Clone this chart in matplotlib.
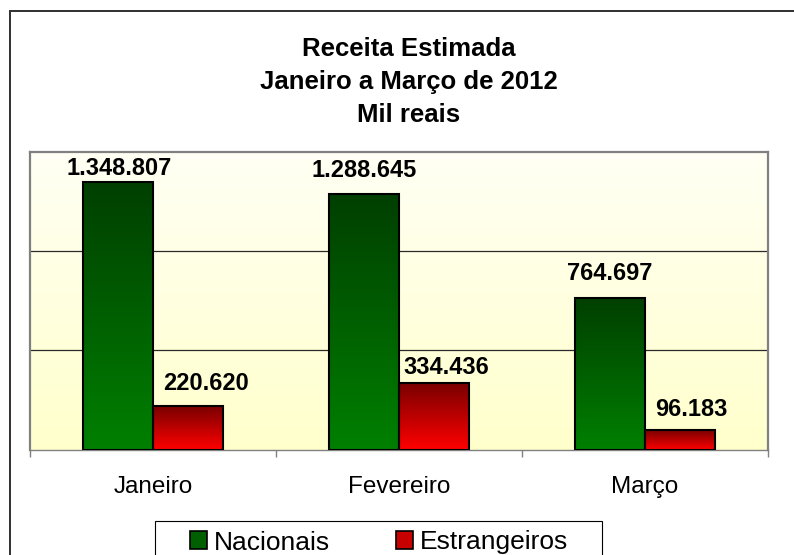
import numpy as np
import matplotlib
matplotlib.use('Agg')
import matplotlib.pyplot as plt
from matplotlib.patches import Rectangle, Patch
from matplotlib.colors import LinearSegmentedColormap

# ---- data ----
months = ['Janeiro', 'Fevereiro', 'Março']
nacionais = [1348807, 1288645, 764697]
estrangeiros = [220620, 334436, 96183]
series_names = ['Nacionais', 'Estrangeiros']
title_lines = ['Receita Estimada', 'Janeiro a Março de 2012', 'Mil reais']

# ---- style ----
plt.rcParams['font.family'] = ['Liberation Sans', 'DejaVu Sans']
W, H = 794, 555
fig = plt.figure(figsize=(W / 100, H / 100), dpi=100)

def fmt(v):
    return f"{v:,}".replace(',', '.')

ax_left, ax_right, ax_top, ax_bot = 30, 768, 152, 449.5
ax = fig.add_axes([ax_left / W, 1 - ax_bot / H, (ax_right - ax_left) / W, (ax_bot - ax_top) / H])

ymax = 1500000
xlim = (-0.5, len(months) - 0.5)
ax.set_xlim(*xlim)
ax.set_ylim(0, ymax)

# plot-area gradient background
bg = LinearSegmentedColormap.from_list('bg', ['#FFFFCC', '#FFFFF4'])
grad = np.linspace(0, 1, 256).reshape(-1, 1)
ax.imshow(grad, cmap=bg, origin='lower', aspect='auto',
          extent=[xlim[0], xlim[1], 0, ymax], zorder=0)

# gridlines
for g in [500000, 1000000]:
    ax.axhline(g, color='#2a2a2a', lw=0.9, zorder=1)

green_cm = LinearSegmentedColormap.from_list('g', ['#008000', '#003F00'])
red_cm = LinearSegmentedColormap.from_list('r', ['#FF0000', '#7A0000'])

bw = 0.286
x = np.arange(len(months))
b1 = ax.bar(x - bw / 2, nacionais, bw, facecolor='none', edgecolor='black', lw=1.5, zorder=3)
b2 = ax.bar(x + bw / 2, estrangeiros, bw, facecolor='none', edgecolor='black', lw=1.5, zorder=3)

for bars, cm in [(b1, green_cm), (b2, red_cm)]:
    for p in bars:
        x0, w, h = p.get_x(), p.get_width(), p.get_height()
        ax.imshow(grad, cmap=cm, origin='lower', aspect='auto',
                  extent=[x0, x0 + w, 0, h], zorder=2)

ax.set_xlim(*xlim)
ax.set_ylim(0, ymax)

# data labels (offsets in pixels, as placed in the original)
nac_off = [(1.5, 6.5), (0, 17), (0, 18)]
est_off = [(18, 15.5), (12, 9), (11, 14)]
for bars, vals, offs in [(b1, nacionais, nac_off), (b2, estrangeiros, est_off)]:
    for p, v, (dx, dy) in zip(bars, vals, offs):
        ax.annotate(fmt(v), xy=(p.get_x() + p.get_width() / 2, p.get_height()),
                    xytext=(dx, dy), textcoords='offset pixels',
                    ha='center', va='baseline', fontsize=17, fontweight='bold',
                    color='black', zorder=5)

# axes styling
ax.set_yticks([])
ax.set_xticks(x)
ax.set_xticklabels(months, fontsize=17.5)
ax.set_xticks(np.arange(len(months) + 1) - 0.5, minor=True)
ax.tick_params(axis='x', which='major', length=0, pad=19)
ax.tick_params(axis='x', which='minor', length=5.2, width=1, color='#808080', direction='out')
for s in ['left', 'top', 'right']:
    ax.spines[s].set_color('#808080')
    ax.spines[s].set_linewidth(1.6)
ax.spines['bottom'].set_color('#808080')
ax.spines['bottom'].set_linewidth(1.0)

# title
for line, base in zip(title_lines, [56.5, 89.5, 122]):
    fig.text(409 / W, 1 - base / H, line, ha='center', va='baseline',
             fontsize=18.5, fontweight='bold')

# legend
handles = [Patch(facecolor='#006000', edgecolor='black', lw=1.2),
           Patch(facecolor='#C80000', edgecolor='black', lw=1.2)]
fig.legend(handles, series_names, loc='center', bbox_to_anchor=(379 / W, 1 - 542.5 / H),
           ncol=2, frameon=False, fontsize=19, handlelength=0.65, handleheight=0.65,
           handletextpad=0.27, columnspacing=2.5, borderpad=0, borderaxespad=0)
fig.add_artist(Rectangle((155 / W, -0.05), (602 - 155) / W, (555 - 521) / H + 0.05,
                         transform=fig.transFigure, fill=False, edgecolor='black', lw=0.8))

# outer chart border
fig.add_artist(Rectangle((9.5 / W, -0.05), 1.2, (555 - 11) / H + 0.05,
                         transform=fig.transFigure, fill=False, edgecolor='#303030', lw=1.4))

fig.savefig('out.png', dpi=100)
